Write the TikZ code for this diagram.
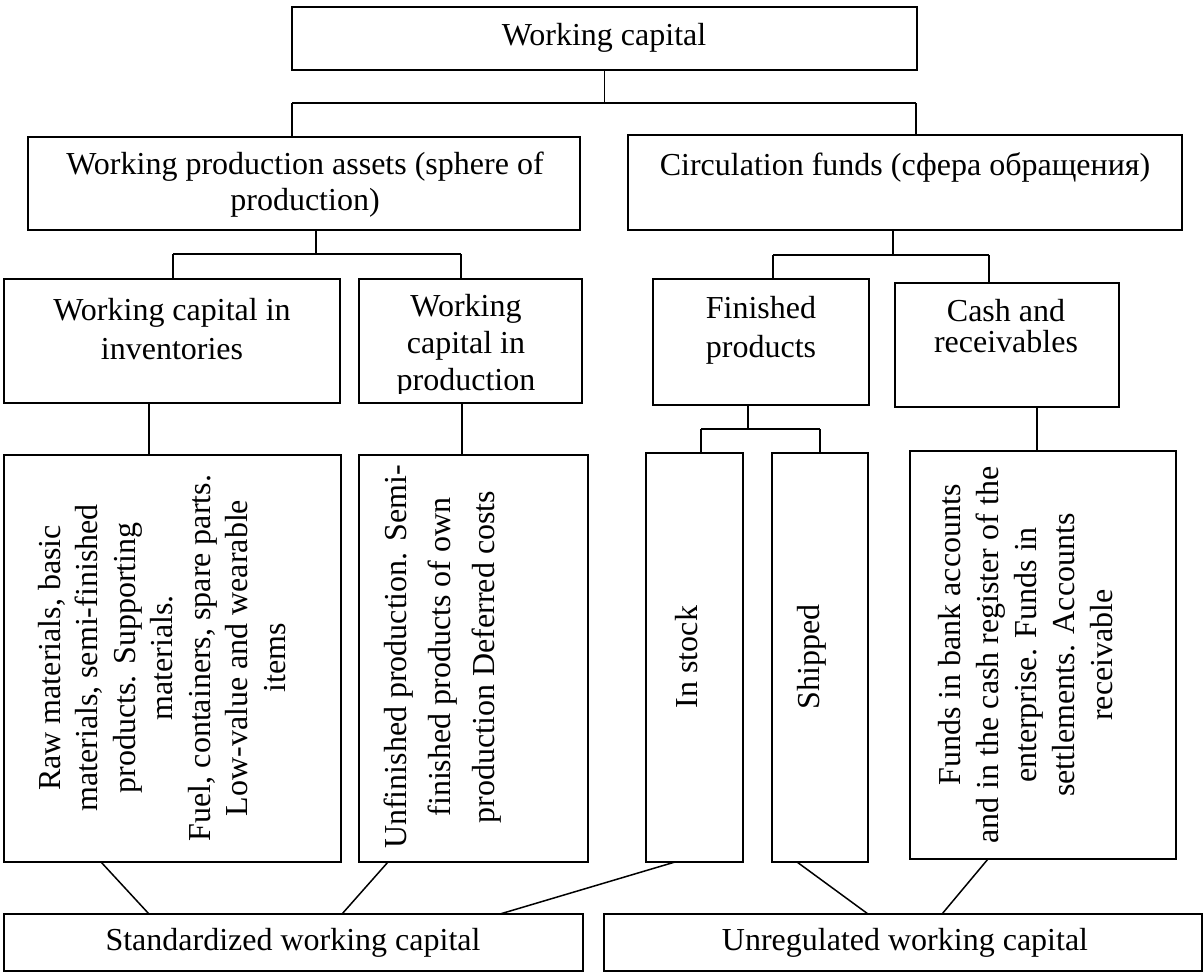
\documentclass[tikz,border=0pt]{standalone}
\usepackage{fontspec}
\setmainfont{Liberation Serif}
\usetikzlibrary{calc}
\begin{document}
\begin{tikzpicture}[x=1pt,y=-1pt,
  box/.style={draw, line width=1.8pt, inner sep=0pt, outer sep=0pt, anchor=north west},
  link/.style={line width=1.5pt},
  txt/.style={inner sep=0pt, align=center, font=\fontsize{32}{38}\selectfont},
]
\useasboundingbox (0,0) rectangle (1204,972);

% ---- boxes ----
\node[box, minimum width=625pt, minimum height=63pt]  (wc)    at (292,7)   {};
\node[box, minimum width=552pt, minimum height=93pt]  (wpa)   at (28,137)  {};
\node[box, minimum width=554pt, minimum height=95pt]  (circ)  at (628,135) {};
\node[box, minimum width=336pt, minimum height=124pt] (inv)   at (4,279)   {};
\node[box, minimum width=223pt, minimum height=124pt] (wcp)   at (359,279) {};
\node[box, minimum width=216pt, minimum height=126pt] (fin)   at (653,279) {};
\node[box, minimum width=224pt, minimum height=124pt] (cash)  at (895,283) {};
\node[box, minimum width=337pt, minimum height=407pt] (raw)   at (4,455)   {};
\node[box, minimum width=229pt, minimum height=407pt] (unf)   at (359,455) {};
\node[box, minimum width=97pt,  minimum height=409pt] (stock) at (646,453) {};
\node[box, minimum width=96pt,  minimum height=409pt] (ship)  at (772,453) {};
\node[box, minimum width=266pt, minimum height=408pt] (funds) at (910,451) {};
\node[box, minimum width=579pt, minimum height=57pt]  (std)   at (4,914)   {};
\node[box, minimum width=598pt, minimum height=57pt]  (unreg) at (604,914) {};

% ---- labels ----
\node[txt] (twc) at (604,38) {Working capital};
\node[txt, font=\fontsize{32}{36}\selectfont] (twpa) at (305,185)
  {Working production assets (sphere of\\production)};
\node[txt] (tcirc) at (905,167) {Circulation funds (сфера обращения)};
\node[txt, font=\fontsize{32}{39}\selectfont] (tinv) at (172,329)
  {Working capital in\\inventories};
\begin{scope}
  \clip (wcp.north west) rectangle ($(wcp.south east)+(0,-10)$);
  \node[txt, font=\fontsize{32}{37}\selectfont] (twcp) at (466,346)
    {Working\\capital in\\production};
\end{scope}
\node[txt, font=\fontsize{32}{39}\selectfont] (tfin) at (761,330)
  {Finished\\products};
\node[txt, font=\fontsize{32}{31}\selectfont] (tcash) at (1006,326)
  {Cash and\\receivables};

\node[txt, rotate=90, font=\fontsize{32}{37.5}\selectfont] (traw) at (162,658)
  {Raw materials, basic\\materials, semi-finished\\products. Supporting\\materials.\\Fuel, containers, spare parts.\\Low-value and wearable\\items};
\node[txt, rotate=90, font=\fontsize{32}{44}\selectfont] (tunf) at (443,657)
  {Unfinished production. Semi-\\finished products of own\\production Deferred costs};
\node[txt, rotate=90] (tstock) at (687,657) {In stock};
\node[txt, rotate=90] (tship)  at (812,657) {Shipped};
\node[txt, rotate=90, font=\fontsize{32}{38}\selectfont] (tfunds) at (1026,655)
  {\hspace*{40pt}Funds in bank accounts\\and in the cash register of the\\enterprise. Funds in\\settlements. Accounts\\receivable};

\node[txt] (tstd)   at (293,943) {Standardized working capital};
\node[txt] (tunreg) at (905,943) {Unregulated working capital};

% ---- tree connectors ----
\coordinate (h1l) at (292,103);
\coordinate (h1r) at (916,103);
\draw[link] (wc.south) -- (wc.south |- h1l);
\draw[link] (h1l) -- (h1r);
\draw[link] (h1l) -- (h1l |- wpa.north);
\draw[link] (h1r) -- (h1r |- circ.north);

\coordinate (h2l) at (173,254);
\coordinate (h2r) at (461,254);
\coordinate (d2) at ($(wpa.south west)+(288,0)$);
\draw[link] (d2) -- (d2 |- h2l);
\draw[link] (h2l) -- (h2r);
\draw[link] (h2l) -- (h2l |- inv.north);
\draw[link] (h2r) -- (h2r |- wcp.north);

\coordinate (h3l) at (773,255);
\coordinate (h3r) at (989,255);
\coordinate (d3) at ($(circ.south west)+(265,0)$);
\draw[link] (d3) -- (d3 |- h3l);
\draw[link] (h3l) -- (h3r);
\draw[link] (h3l) -- (h3l |- fin.north);
\draw[link] (h3r) -- (h3r |- cash.north);

\coordinate (d4) at ($(inv.south west)+(145,0)$);
\draw[link] (d4) -- (d4 |- raw.north);
\coordinate (d5) at ($(wcp.south west)+(103,0)$);
\draw[link] (d5) -- (d5 |- unf.north);

\coordinate (h6l) at (701,429);
\coordinate (h6r) at (820,429);
\coordinate (d6) at ($(fin.south west)+(95,0)$);
\draw[link] (d6) -- (d6 |- h6l);
\draw[link] (h6l) -- (h6r);
\draw[link] (h6l) -- (h6l |- stock.north);
\draw[link] (h6r) -- (h6r |- ship.north);

\coordinate (d7) at ($(cash.south west)+(142,0)$);
\draw[link] (d7) -- (d7 |- funds.north);

% ---- links to the two groups ----
\draw[link] ($(raw.south west)+(97,0)$)   -- ($(std.north west)+(145,0)$);
\draw[link] ($(unf.south west)+(29,0)$)   -- ($(std.north west)+(338,0)$);
\draw[link] ($(stock.south west)+(29,0)$) -- ($(std.north west)+(496,0)$);
\draw[link] ($(ship.south west)+(25,0)$)  -- ($(unreg.north west)+(264,0)$);
\draw[link] ($(funds.south west)+(78,0)$) -- ($(unreg.north west)+(338,0)$);
\end{tikzpicture}
\end{document}
